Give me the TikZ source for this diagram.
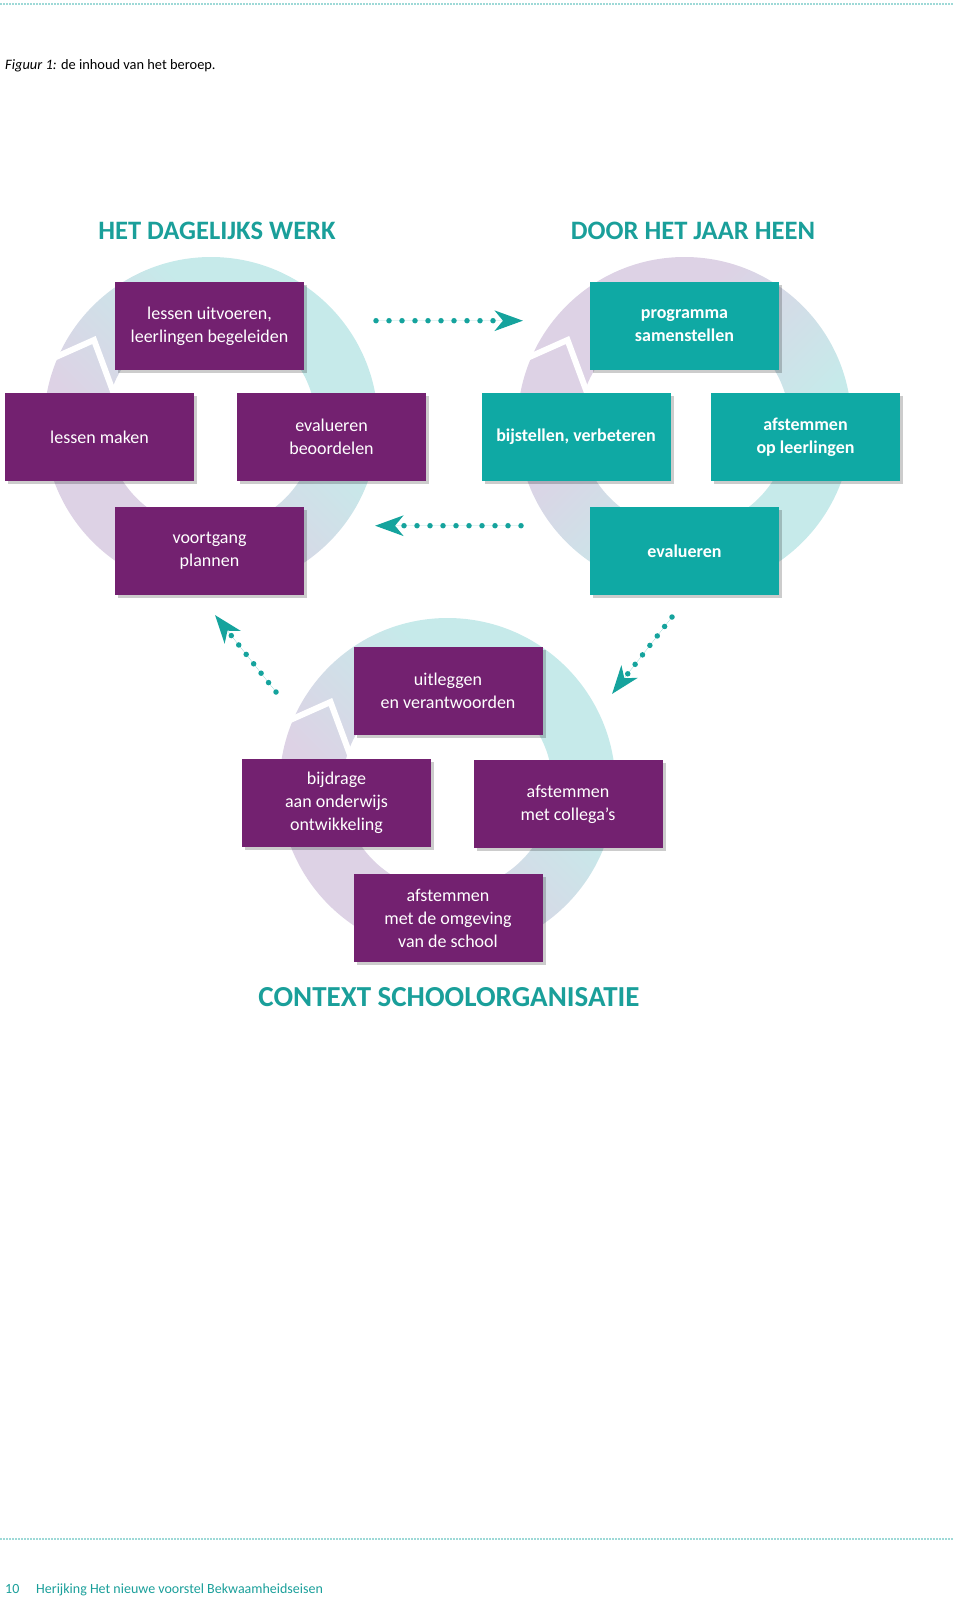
\documentclass[tikz,border=0pt]{standalone}
\usepackage{fontspec}
\setmainfont{Carlito}
\usetikzlibrary{arrows.meta,shadows}
\definecolor{purp}{HTML}{732170}
\definecolor{teal1}{HTML}{0FA9A4}
\definecolor{tealtxt}{HTML}{1A9F9A}
\definecolor{arrowc}{HTML}{15A39D}
\definecolor{lav}{HTML}{DDD2E5}
\definecolor{tlight}{HTML}{C6EAEA}
\definecolor{dotc}{HTML}{3AB3AE}
\pgfdeclarehorizontalshading{ringshade}{100bp}{color(0bp)=(lav); color(38bp)=(lav); color(62bp)=(tlight); color(100bp)=(tlight)}
\begin{document}
\begin{tikzpicture}[x=1pt,y=-1pt,
 box/.style={minimum width=189pt, minimum height=88pt, inner sep=0pt, align=center, text=white,
   font=\fontsize{18}{23}\selectfont,
   drop shadow={shadow xshift=3pt,shadow yshift=-3pt,opacity=0.2,fill=black}},
 pbox/.style={box, fill=purp},
 tbox/.style={box, fill=teal1, font=\fontsize{18}{23}\selectfont\bfseries},
 ring/.style={shading=ringshade, even odd rule},
 notch/.style={draw=white, line width=6pt, line join=miter},
 dotarrow/.style={draw=arrowc, fill=arrowc, line width=5.5pt, dash pattern=on 0pt off 13pt, line cap=round,
   -{Stealth[length=28pt,width=20pt,inset=8pt]}},
 dotarrowd/.style={dotarrow, dash pattern=on 0pt off 12pt},
 heading/.style={text=tealtxt, font=\fontsize{26.6}{30}\selectfont\bfseries},
 pageline/.style={draw=dotc, line width=1.6pt, dash pattern=on 0pt off 3pt, line cap=round}
]
\useasboundingbox (0,0) rectangle (960,1604);

% page lines
\coordinate (tl1) at (1,4);
\coordinate (tl2) at (952,4);
\draw[pageline] (tl1) -- (tl2);
\coordinate (bl1) at (1,1539);
\coordinate (bl2) at (952,1539);
\draw[pageline] (bl1) -- (bl2);

% caption
\node[anchor=base west, inner sep=0pt, font=\fontsize{14.4}{17}\selectfont] (cap) at (5,69)
  {\textit{Figuur 1:} de inhoud van het beroep.};

% headings
\node[heading] (h1) at (217,231) {HET DAGELIJKS WERK};
\node[heading] (h2) at (693,231) {DOOR HET JAAR HEEN};

% rings
\coordinate (cL) at (211,424);
\coordinate (cR) at (684.5,424);
\coordinate (cB) at (447.5,786);
\shade[ring, shading angle=45] (cL) circle[radius=167pt] (cL) circle[radius=105pt];
\shade[ring, shading angle=-45] (cR) circle[radius=167pt] (cR) circle[radius=105pt];
\shade[ring, shading angle=45] (cB) circle[radius=168pt] (cB) circle[radius=105pt];
\foreach \c in {cL,cR,cB}{
  \draw[notch] ([shift={(-182,-55)}]\c) -- ([shift={(-117,-84)}]\c) -- ([shift={(-97,-30)}]\c);
}

% left cluster
\node[pbox] (a1) at (209.5,326) {lessen uitvoeren,\\leerlingen begeleiden};
\node[pbox] (a2) at (99.5,437) {lessen maken};
\node[pbox] (a3) at (331.5,437) {evalueren\\beoordelen};
\node[pbox] (a4) at (209.5,551) {voortgang\\plannen};

% right cluster
\node[tbox] (b1) at (684.5,326) {programma\\samenstellen};
\node[tbox] (b2) at (576,437) {bijstellen, verbeteren};
\node[tbox] (b3) at (805.5,437) {afstemmen\\op leerlingen};
\node[tbox] (b4) at (684.5,551) {evalueren};

% bottom cluster
\node[pbox] (c1) at (448,691) {uitleggen\\en verantwoorden};
\node[pbox] (c2) at (336.5,803) {bijdrage\\aan onderwijs\\ontwikkeling};
\node[pbox] (c3) at (568,804) {afstemmen\\met collega’s};
\node[pbox] (c4) at (448,918) {afstemmen\\met de omgeving\\van de school};

\node[heading, font=\fontsize{29}{32}\selectfont\bfseries] (h3) at (449,997) {CONTEXT SCHOOLORGANISATIE};

% dotted arrows
\coordinate (p1s) at (376,320.7);
\coordinate (p1e) at (523,320.7);
\draw[dotarrow] (p1s) -- (p1e);
\coordinate (p2s) at (521,525.7);
\coordinate (p2e) at (375,525.7);
\draw[dotarrow] (p2s) -- (p2e);
\coordinate (p3s) at (276,692);
\coordinate (p3e) at (215,615);
\draw[dotarrowd] (p3s) -- (p3e);
\coordinate (p4s) at (672,617);
\coordinate (p4e) at (612,694);
\draw[dotarrowd] (p4s) -- (p4e);

% footer
\node[anchor=base west, inner sep=0pt, text=tealtxt, font=\fontsize{14}{16}\selectfont] (pg) at (5,1593) {10};
\node[anchor=base west, inner sep=0pt, text=tealtxt, font=\fontsize{14}{16}\selectfont] (ft) at (36,1593)
  {Herijking Het nieuwe voorstel Bekwaamheidseisen};
\end{tikzpicture}
\end{document}
